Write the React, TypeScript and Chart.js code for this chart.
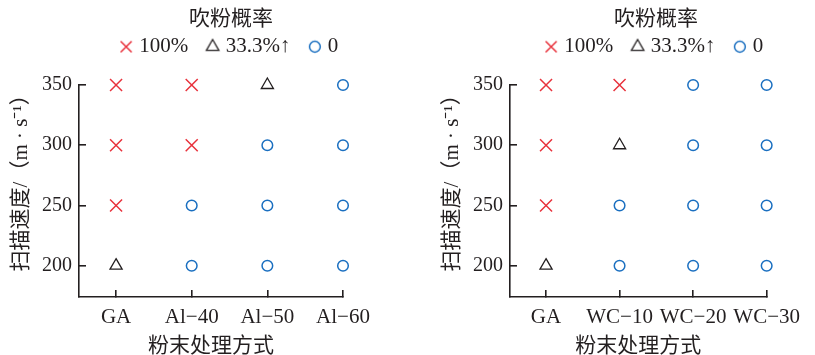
import React, { useEffect, useRef } from 'react';
import { Chart, registerables } from 'chart.js';

Chart.register(...registerables);

// ---------- data ----------
const speeds = [200, 250, 300, 350];
const speedTicks = [200, 250, 300, 350];
const categoriesAl = ['GA', 'Al−40', 'Al−50', 'Al−60'];
const categoriesWC = ['GA', 'WC−10', 'WC−20', 'WC−30'];
// blow-off probability (%) per powder treatment, listed for speeds 200, 250, 300, 350
const rateGA = [33.3, 100, 100, 100];
const rateAl40 = [0, 0, 100, 100];
const rateAl50 = [0, 0, 0, 33.3];
const rateAl60 = [0, 0, 0, 0];
const rateWC10 = [0, 0, 33.3, 100];
const rateWC20 = [0, 0, 0, 0];
const rateWC30 = [0, 0, 0, 0];
const legendLevels = [100, 33.3, 0];
const legendLabels = ['100%', '33.3%↑', '0'];
const legendTitle = '吹粉概率';
const yTitle = '\u3000 扫描速度/（m · s⁻¹）';
const xTitle = '粉末处理方式';

// ---------- styles ----------
const INK = '#231f20';
const RED = '#e8323c';
const BLUE = '#1a6fc0';
const SERIF = "'Liberation Serif', 'Times New Roman', serif";
const CJK = "'Liberation Serif', 'Noto Sans CJK SC', sans-serif";
const markerStyles = [
  { style: 'crossRot', color: RED, radius: 8.5, width: 1.5, legendRadius: 7.8 },
  { style: 'triangle', color: INK, radius: 7, width: 1.3, legendRadius: 7.2 },
  { style: 'circle', color: BLUE, radius: 5.3, width: 1.5, legendRadius: 5.4 },
];

function makeIcon(style: string, color: string, r: number, w: number): HTMLCanvasElement {
  const c = document.createElement('canvas');
  c.width = 18;
  c.height = 18;
  const ctx = c.getContext('2d')!;
  const cx = 9;
  const cy = 9;
  ctx.strokeStyle = color;
  ctx.lineWidth = w;
  ctx.beginPath();
  if (style === 'crossRot') {
    const o = r * Math.SQRT1_2;
    ctx.moveTo(cx - o, cy - o);
    ctx.lineTo(cx + o, cy + o);
    ctx.moveTo(cx - o, cy + o);
    ctx.lineTo(cx + o, cy - o);
  } else if (style === 'triangle') {
    ctx.moveTo(cx, cy - r);
    ctx.lineTo(cx + 0.866 * r, cy + 0.5 * r);
    ctx.lineTo(cx - 0.866 * r, cy + 0.5 * r);
    ctx.closePath();
  } else {
    ctx.arc(cx, cy, r, 0, Math.PI * 2);
  }
  ctx.stroke();
  return c;
}

const layoutPlugin = {
  id: 'layoutTweaks',
  beforeLayout(chart: any, _args: any, opts: any) {
    const lg = chart.legend;
    if (lg && !lg.__patched) {
      const orig = lg.fit;
      lg.fit = function () {
        orig.call(this);
        this.height = opts.legendHeight;
      };
      lg.__patched = true;
    }
  },
  afterLayout(chart: any, _args: any, opts: any) {
    const lg = chart.legend;
    if (!lg) return;
    const w = lg.right - lg.left;
    lg.left = opts.legendCx - w / 2;
    lg.right = lg.left + w;
  },
};

function buildConfig(categories: string[], rates: number[][], padRight: number, legendCx: number): any {
  const datasets = legendLevels.map((lvl, k) => {
    const pts: { x: number; y: number }[] = [];
    rates.forEach((col, ci) =>
      col.forEach((r, si) => {
        if (r === lvl) pts.push({ x: ci, y: speeds[si] });
      })
    );
    const st = markerStyles[k];
    return {
      label: legendLabels[k],
      data: pts,
      pointStyle: st.style,
      pointRadius: st.radius,
      pointHoverRadius: st.radius,
      borderColor: st.color,
      backgroundColor: 'rgba(0,0,0,0)',
      borderWidth: st.width,
      pointBorderWidth: st.width,
      showLine: false,
      clip: false,
    };
  });
  const icons = markerStyles.map((st) => makeIcon(st.style, st.color, st.legendRadius, st.width));

  const gridOpts = {
    display: true,
    drawOnChartArea: false,
    drawTicks: true,
    tickLength: -7,
    color: INK,
    lineWidth: 1.6,
  };
  const borderOpts = { display: true, color: INK, width: 1.6 };

  return {
    type: 'scatter',
    data: { datasets },
    plugins: [layoutPlugin],
    options: {
      responsive: false,
      animation: false,
      devicePixelRatio: 1,
      layout: { padding: { left: 0, right: padRight, top: 0, bottom: 0 } },
      plugins: {
        tooltip: { enabled: false },
        layoutTweaks: { legendHeight: 85, legendCx },
        legend: {
          display: true,
          position: 'top',
          title: {
            display: true,
            text: legendTitle,
            color: INK,
            font: { family: CJK, size: 21 },
            padding: { top: 9, bottom: -20 },
          },
          labels: {
            usePointStyle: true,
            boxWidth: 5,
            boxHeight: 9,
            padding: 22,
            color: INK,
            font: { family: SERIF, size: 21 },
            generateLabels: (chart: any) => {
              const items = (Chart as any).defaults.plugins.legend.labels.generateLabels(chart);
              return items.map((it: any, i: number) => ({ ...it, pointStyle: icons[i] }));
            },
          },
        },
      },
      scales: {
        x: {
          type: 'linear',
          min: -0.49,
          max: 3,
          afterBuildTicks: (s: any) => {
            s.ticks = categories.map((_, i) => ({ value: i }));
          },
          afterFit: (s: any) => {
            s.height = 58;
          },
          grid: gridOpts,
          border: borderOpts,
          ticks: {
            padding: 15,
            autoSkip: false,
            maxRotation: 0,
            color: INK,
            font: { family: SERIF, size: 21 },
            callback: (v: any) => categories[v] ?? '',
          },
          title: {
            display: true,
            text: xTitle,
            color: INK,
            font: { family: CJK, size: 21 },
            padding: { top: 0, bottom: -4.5 },
          },
        },
        y: {
          type: 'linear',
          min: 174,
          max: 350,
          afterBuildTicks: (s: any) => {
            s.ticks = speedTicks.map((v) => ({ value: v }));
          },
          afterFit: (s: any) => {
            s.width = 79;
          },
          grid: gridOpts,
          border: borderOpts,
          ticks: {
            padding: 14,
            color: INK,
            font: { family: SERIF, size: 20 },
          },
          title: {
            display: true,
            text: yTitle,
            color: INK,
            font: { family: CJK, size: 21 },
            padding: { top: 8.5, bottom: 0 },
          },
        },
      },
    },
  };
}

function Panel(props: { categories: string[]; rates: number[][]; left: number; width: number; padRight: number; legendCx: number }) {
  const ref = useRef<HTMLCanvasElement | null>(null);
  useEffect(() => {
    if (!ref.current) return;
    const chart = new Chart(ref.current, buildConfig(props.categories, props.rates, props.padRight, props.legendCx));
    return () => chart.destroy();
  }, []);
  return (
    <canvas
      ref={ref}
      width={props.width}
      height={355}
      style={{ position: 'absolute', left: props.left, top: 0, width: props.width, height: 355 }}
    />
  );
}

export default function App() {
  return (
    <div style={{ position: 'absolute', left: 0, top: 0, width: 815, height: 355, overflow: 'hidden', background: '#fff' }}>
      <Panel categories={categoriesAl} rates={[rateGA, rateAl40, rateAl50, rateAl60]} left={0} width={407} padRight={64} legendCx={231} />
      <Panel categories={categoriesWC} rates={[rateGA, rateWC10, rateWC20, rateWC30]} left={431} width={384} padRight={42} legendCx={225} />
    </div>
  );
}
